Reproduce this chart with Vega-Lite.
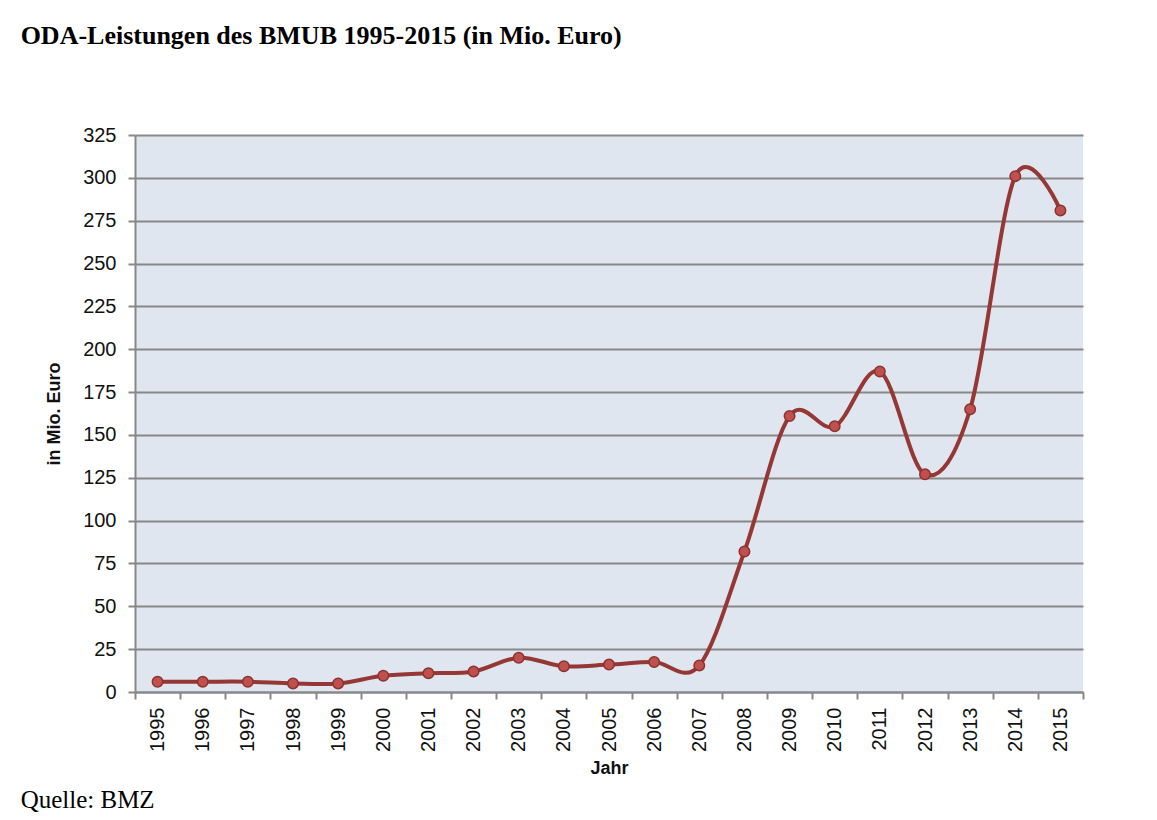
{
  "$schema": "https://vega.github.io/schema/vega-lite/v6.json",
  "background": "white",
  "padding": {"left": 20, "top": 23, "right": 10, "bottom": 5},
  "title": {
    "text": "ODA-Leistungen des BMUB 1995-2015 (in Mio. Euro)",
    "anchor": "start",
    "frame": "bounds",
    "font": "Liberation Serif",
    "fontSize": 26,
    "fontWeight": "bold",
    "color": "#000000",
    "dx": 0,
    "offset": 76
  },
  "config": {
    "view": {"fill": "#dfe6ef", "stroke": null},
    "axis": {
      "labelFont": "Liberation Sans",
      "titleFont": "Liberation Sans",
      "labelFontSize": 20,
      "titleFontSize": 18,
      "labelColor": "#111111",
      "titleColor": "#111111",
      "domainColor": "#888888",
      "tickColor": "#888888",
      "gridColor": "#888888",
      "domainWidth": 2,
      "tickWidth": 2,
      "gridWidth": 2,
      "gridOpacity": 1
    }
  },
  "vconcat": [
    {
      "width": 948,
      "height": 557,
      "title": {
        "text": "Quelle: BMZ",
        "orient": "bottom",
        "anchor": "start",
        "frame": "bounds",
        "font": "Liberation Serif",
        "fontSize": 25,
        "fontWeight": "normal",
        "color": "#000000",
        "dx": -25,
        "offset": 11
      },
      "data": {
        "values": [
          {"year": 1995, "value": 6},
          {"year": 1996, "value": 6},
          {"year": 1997, "value": 6},
          {"year": 1998, "value": 5},
          {"year": 1999, "value": 5},
          {"year": 2000, "value": 9.5},
          {"year": 2001, "value": 11},
          {"year": 2002, "value": 12},
          {"year": 2003, "value": 20},
          {"year": 2004, "value": 15},
          {"year": 2005, "value": 16},
          {"year": 2006, "value": 17.5},
          {"year": 2007, "value": 15.5},
          {"year": 2008, "value": 82},
          {"year": 2009, "value": 161},
          {"year": 2010, "value": 155},
          {"year": 2011, "value": 187},
          {"year": 2012, "value": 127},
          {"year": 2013, "value": 165},
          {"year": 2014, "value": 301},
          {"year": 2015, "value": 281}
        ]
      },
      "encoding": {
        "x": {
          "field": "year",
          "type": "ordinal",
          "bandPosition": 0.5,
          "scale": {"type": "band", "paddingInner": 0, "paddingOuter": 0},
          "axis": {
            "title": "Jahr",
            "labelAngle": -90,
            "tickBand": "extent",
            "tickSize": 7,
            "labelPadding": 8,
            "grid": false,
            "titlePadding": 8
          }
        },
        "y": {
          "field": "value",
          "type": "quantitative",
          "scale": {"domain": [0, 325], "nice": false},
          "axis": {
            "title": "in Mio. Euro",
            "values": [0, 25, 50, 75, 100, 125, 150, 175, 200, 225, 250, 275, 300, 325],
            "tickSize": 7,
            "labelPadding": 12,
            "titlePadding": 19,
            "grid": true
          }
        }
      },
      "layer": [
        {"mark": {"type": "line", "interpolate": "cardinal", "color": "#953735", "strokeWidth": 4}},
        {"mark": {"type": "point", "filled": true, "fill": "#c0504d", "stroke": "#8b3331", "strokeWidth": 1.5, "size": 110, "opacity": 1}}
      ]
    }
  ]
}
